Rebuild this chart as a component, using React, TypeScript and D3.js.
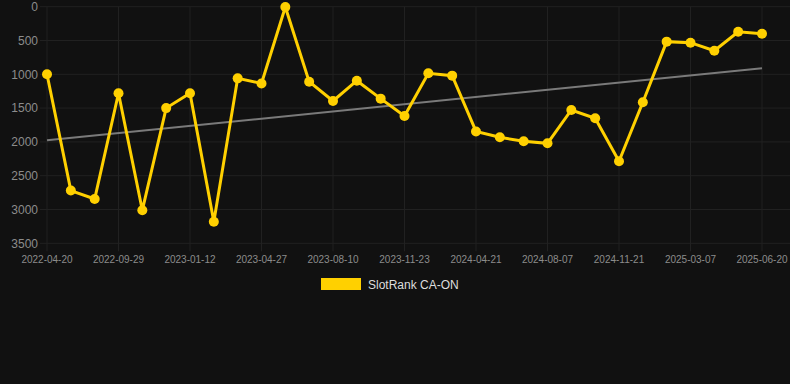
import React from "react";
import * as d3 from "d3";

const dates = [
  "2022-04-20", "2022-06-13", "2022-08-06", "2022-09-29", "2022-11-03", "2022-12-08",
  "2023-01-12", "2023-02-16", "2023-03-23", "2023-04-27", "2023-06-01", "2023-07-06",
  "2023-08-10", "2023-09-14", "2023-10-19", "2023-11-23", "2024-01-12", "2024-03-02",
  "2024-04-21", "2024-05-27", "2024-07-02", "2024-08-07", "2024-09-11", "2024-10-16",
  "2024-11-21", "2024-12-26", "2025-01-30", "2025-03-07", "2025-04-11", "2025-05-16",
  "2025-06-20",
];
const rankValues = [
  1000, 2720, 2845, 1280, 3010, 1500, 1280, 3180, 1060, 1135, 5, 1110, 1395, 1095, 1360, 1617,
  985, 1020, 1845, 1932, 1991, 2021, 1528, 1651, 2287, 1414, 517, 532, 651, 370, 399,
];
const yTicks = [0, 500, 1000, 1500, 2000, 2500, 3000, 3500];
const seriesName = "SlotRank CA-ON";

const W = 790;
const H = 384;
const left = 47;
const right = 762;
const top = 6.7;
const bottom = 243.3;

export default function App() {
  React.useEffect(() => {
    document.body.style.margin = "0";
    document.body.style.background = "#111111";
  }, []);

  const x = d3.scalePoint<string>().domain(dates).range([left, right]).padding(0);
  const y = d3.scaleLinear().domain([0, 3500]).range([top, bottom]);

  const line = d3
    .line<number>()
    .x((_, i) => x(dates[i]) as number)
    .y((d) => y(d));

  // linear regression trend
  const n = rankValues.length;
  const mx = d3.mean(d3.range(n)) as number;
  const my = d3.mean(rankValues) as number;
  let sxy = 0;
  let sxx = 0;
  rankValues.forEach((v, i) => {
    sxy += (i - mx) * (v - my);
    sxx += (i - mx) * (i - mx);
  });
  const slope = sxy / sxx;
  const intercept = my - slope * mx;
  const t0 = intercept;
  const t1 = intercept + slope * (n - 1);

  const xTickDates = dates.filter((_, i) => i % 3 === 0);
  const font = "Arial, 'Liberation Sans', Helvetica, sans-serif";
  const grid = "#212121";

  return (
    <svg
      width={W}
      height={H}
      style={{ position: "absolute", left: 0, top: 0, background: "#111111", display: "block" }}
    >
      <rect x={0} y={0} width={W} height={H} fill="#111111" />
      {yTicks.map((t) => (
        <g key={t}>
          <line x1={40} x2={W} y1={y(t)} y2={y(t)} stroke={grid} strokeWidth={1} />
          <text
            x={38}
            y={y(t)}
            dy="0.35em"
            textAnchor="end"
            fill="#8c8c8c"
            fontSize={12}
            fontFamily={font}
          >
            {t}
          </text>
        </g>
      ))}
      {xTickDates.map((d) => (
        <g key={d}>
          <line x1={x(d)} x2={x(d)} y1={top} y2={bottom + 8} stroke={grid} strokeWidth={1} />
          <text
            x={x(d)}
            y={263}
            textAnchor="middle"
            fill="#8c8c8c"
            fontSize={10}
            fontFamily={font}
          >
            {d}
          </text>
        </g>
      ))}
      <line
        x1={x(dates[0])}
        x2={x(dates[n - 1])}
        y1={y(t0)}
        y2={y(t1)}
        stroke="#7a7a7a"
        strokeWidth={2}
      />
      <path d={line(rankValues) || ""} fill="none" stroke="#FFD000" strokeWidth={3} />
      {rankValues.map((v, i) => (
        <circle key={i} cx={x(dates[i])} cy={y(v)} r={5} fill="#FFD000" />
      ))}
      <rect x={321} y={278} width={40} height={12} fill="#FFD000" />
      <text x={368} y={285} dy="0.35em" fill="#dddddd" fontSize={12} fontFamily={font}>
        {seriesName}
      </text>
    </svg>
  );
}
